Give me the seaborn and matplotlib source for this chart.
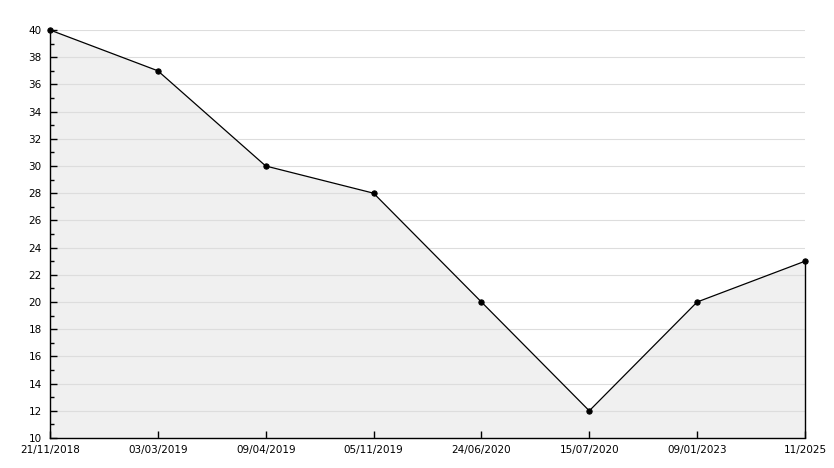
import numpy as np
import pandas as pd
import matplotlib
matplotlib.use("Agg")
import matplotlib.pyplot as plt
from matplotlib.ticker import MultipleLocator
import seaborn as sns

# chart data
dates = ["21/11/2018", "03/03/2019", "09/04/2019", "05/11/2019",
         "24/06/2020", "15/07/2020", "09/01/2023", "11/2025"]
values = [40, 37, 30, 28, 20, 12, 20, 23]

df = pd.DataFrame({"pos": np.arange(len(dates)), "value": values})

sns.set_style("white")
plt.rcParams["font.family"] = ["DejaVu Sans"]

fig = plt.figure(figsize=(8.34, 4.68), dpi=100)
ax = fig.add_axes([50 / 834, 30 / 468, 755 / 834, 408 / 468])

# light fill under the line, kept below the grid
ax.fill_between(df["pos"], df["value"], 10, color="#f0f0f0", zorder=0.2, linewidth=0)
ax.vlines(df["pos"].iloc[-1], 10, df["value"].iloc[-1], color="black",
          linewidth=1, zorder=2, clip_on=False)

sns.lineplot(data=df, x="pos", y="value", ax=ax, color="black", linewidth=0.9,
             marker="o", markersize=3.8, markeredgecolor="black", zorder=3,
             clip_on=False)

ax.set_xlim(0, len(dates) - 1)
ax.set_ylim(10, 40)
ax.set_xticks(df["pos"])
ax.set_xticklabels(dates)
ax.yaxis.set_major_locator(MultipleLocator(2))
ax.yaxis.set_minor_locator(MultipleLocator(1))
ax.grid(axis="y", which="major", color="#dddddd", linewidth=0.8)
ax.set_axisbelow(True)

ax.set_xlabel("")
ax.set_ylabel("")
for side in ["top", "right"]:
    ax.spines[side].set_visible(False)
for side in ["left", "bottom"]:
    ax.spines[side].set_color("black")
    ax.spines[side].set_linewidth(1)
    ax.spines[side].set_zorder(2.5)

ax.tick_params(axis="y", which="major", left=True, direction="in", length=5, width=1,
               labelsize=7.5, pad=6, colors="black")
ax.tick_params(axis="y", which="minor", left=True, direction="in", length=3, width=1,
               colors="black")
ax.tick_params(axis="x", bottom=True, direction="in", length=5, width=1, labelsize=7.5,
               pad=5, colors="black")

fig.savefig("out.png", dpi=100)
